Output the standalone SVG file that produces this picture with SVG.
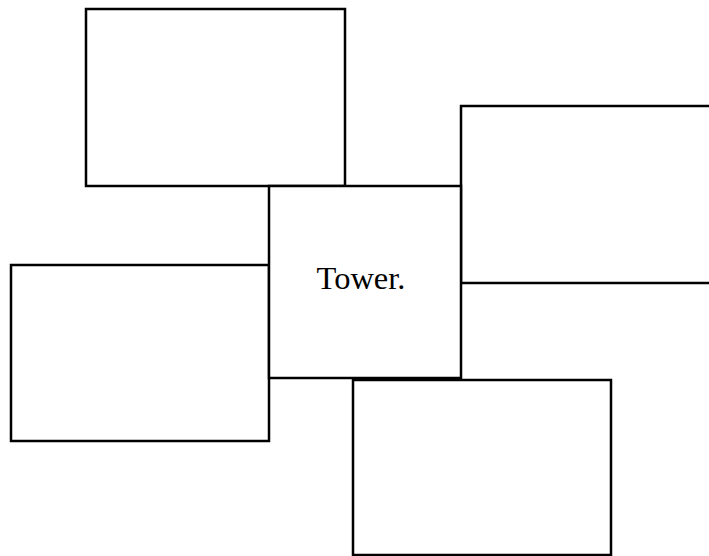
<svg xmlns="http://www.w3.org/2000/svg" width="709" height="556" viewBox="0 0 709 556">
<style>
.box{fill:#fff;stroke:#000;stroke-width:2.5}
.lbl{font-family:"Liberation Serif","Times New Roman",serif;font-size:32.5px;fill:#000}
</style>
<rect width="709" height="556" fill="#fff"/>
<g id="top"><rect class="box" x="86" y="9" width="259" height="177"/></g>
<g id="right"><rect class="box" x="461" y="106" width="260" height="177"/></g>
<g id="left"><rect class="box" x="11" y="265" width="258" height="176"/></g>
<g id="bottom"><rect class="box" x="353" y="380" width="258" height="175"/></g>
<g id="tower"><rect class="box" x="269" y="186" width="192" height="192"/><text class="lbl" x="361" y="289" text-anchor="middle">Tower.</text></g>
<g id="connectors"></g>
</svg>
